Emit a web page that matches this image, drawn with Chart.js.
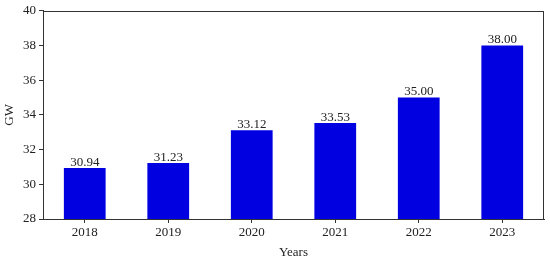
<!DOCTYPE html>
<html><head><meta charset="utf-8">
<script src="https://cdn.jsdelivr.net/npm/chart.js@4"></script>
<style>html,body{margin:0;padding:0;background:#fff}#w{width:550px;height:262px}</style>
</head><body><div id="w"><canvas id="c"></canvas></div>
<script>
const years = ['2018','2019','2020','2021','2022','2023'];
const values = [30.94, 31.23, 33.12, 33.53, 35.00, 38.00];
const yTicks = [28, 30, 32, 34, 36, 38, 40];

const FONT = "'Liberation Serif','Times New Roman',serif";
const boxPlugin = {
  id: 'box',
  afterDraw(chart) {
    const {ctx, chartArea: a} = chart;
    ctx.save();
    ctx.strokeStyle = '#333';
    ctx.lineWidth = 1;
    ctx.strokeRect(Math.round(a.left)+0.5, Math.round(a.top)+0.5, Math.round(a.right-a.left)-1, Math.round(a.bottom-a.top));
    ctx.restore();
  }
};
const labelPlugin = {
  id: 'vals',
  afterDatasetsDraw(chart) {
    const {ctx} = chart;
    const meta = chart.getDatasetMeta(0);
    ctx.save();
    ctx.font = '13px ' + FONT;
    ctx.fillStyle = '#222';
    ctx.textAlign = 'center';
    ctx.textBaseline = 'bottom';
    meta.data.forEach((bar, i) => {
      ctx.fillText(values[i].toFixed(2), bar.x, bar.y + 1);
    });
    ctx.restore();
  }
};
new Chart(document.getElementById('c'), {
  type: 'bar',
  data: { labels: years, datasets: [{ data: values, backgroundColor: '#0000e0', borderWidth: 0, categoryPercentage: 1.0, barPercentage: 0.5 }] },
  options: {
    responsive: true, maintainAspectRatio: false, animation: false,
    layout: { padding: { top: 10, right: 6, left: 0, bottom: 0 } },
    plugins: { legend: { display: false }, tooltip: { enabled: false } },
    scales: {
      x: {
        grid: { display: true, offset: false, drawOnChartArea: false, drawTicks: true, tickLength: 4, color: '#333' },
        border: { display: true, color: '#333' },
        ticks: { color: '#222', font: { family: FONT, size: 13 }, padding: 2 },
        title: { display: true, text: 'Years', color: '#222', font: { family: FONT, size: 13 }, padding: { top: 2, bottom: 2 } },
        afterFit(s) { s.height = 43; }
      },
      y: {
        min: 28, max: 40,
        afterBuildTicks(s) { s.ticks = yTicks.map(v => ({ value: v })); },
        grid: { display: true, drawOnChartArea: false, drawTicks: true, tickLength: 4, color: '#333' },
        border: { display: true, color: '#333' },
        ticks: { color: '#222', font: { family: FONT, size: 13 }, padding: 3 },
        title: { display: true, text: 'GW', color: '#222', font: { family: FONT, size: 13 }, padding: { top: 2, bottom: 0 } },
        afterFit(s) { s.width = 43; }
      }
    }
  },
  plugins: [boxPlugin, labelPlugin]
});
</script></body></html>
